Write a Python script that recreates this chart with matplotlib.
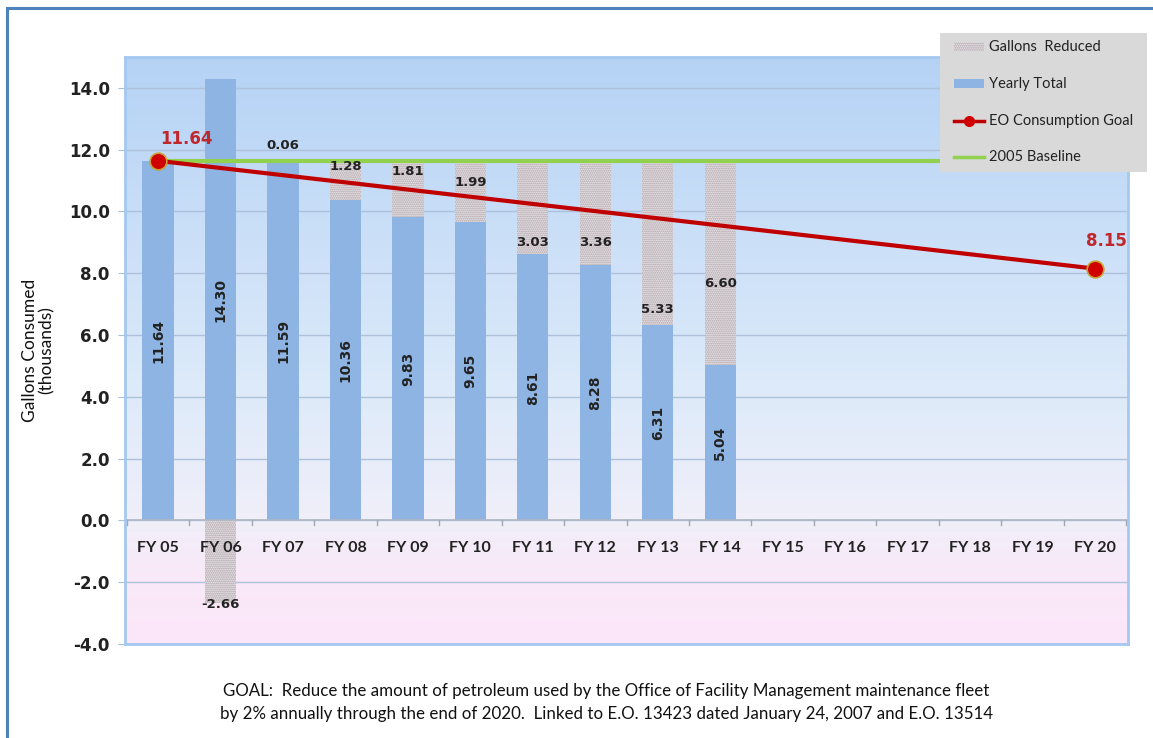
import matplotlib
matplotlib.use("Agg")
import matplotlib.pyplot as plt
import numpy as np
from matplotlib.patches import Rectangle
from matplotlib.colors import LinearSegmentedColormap

# ---------------- data ----------------
categories = ["FY 05", "FY 06", "FY 07", "FY 08", "FY 09", "FY 10", "FY 11", "FY 12",
              "FY 13", "FY 14", "FY 15", "FY 16", "FY 17", "FY 18", "FY 19", "FY 20"]
yearly_total = [11.64, 14.30, 11.59, 10.36, 9.83, 9.65, 8.61, 8.28, 6.31, 5.04]
gallons_reduced = [None, -2.66, 0.06, 1.28, 1.81, 1.99, 3.03, 3.36, 5.33, 6.60]
goal_years = ["FY 05", "FY 20"]
goal_values = [11.64, 8.15]
baseline_value = 11.64
y_ticks = [-4.0, -2.0, 0.0, 2.0, 4.0, 6.0, 8.0, 10.0, 12.0, 14.0]

# label layout (data-unit y positions for the "reduced" labels)
reduced_label_y = [None, -2.72, 12.12, 11.47, 11.28, 10.95, 8.98, 8.98, 6.84, 7.68]

W, H = 1153, 738
fig = plt.figure(figsize=(W / 100, H / 100), dpi=100)
fig.patch.set_facecolor("white")

# outer border
fig.add_artist(Rectangle((7 / W, -0.1), 1.2, 1 - 7.5 / H + 0.1, transform=fig.transFigure,
                         fill=False, edgecolor="#4f81bd", linewidth=2.2, zorder=0))

ax = fig.add_axes([125 / W, 1 - 644 / H, (1128 - 125) / W, (644 - 57) / H])
ax.set_xlim(-0.53, 15.53)
ax.set_ylim(-4, 15)

# gradient background
cmap = LinearSegmentedColormap.from_list("bg", [
    (0.0, "#fbe6f8"),
    (0.12, "#f9e9f8"),
    (0.21, "#f0eff9"),
    (0.45, "#dceafa"),
    (1.0, "#b5d2f5"),
])
grad = np.linspace(0, 1, 256).reshape(-1, 1)
ax.imshow(grad, aspect="auto", cmap=cmap, origin="lower",
          extent=[-0.53, 15.53, -4, 15], zorder=0)

# grid
for t in y_ticks:
    ax.axhline(t, color="#adc2da", linewidth=1.0, zorder=1)

x = np.arange(len(categories))
n = len(yearly_total)
bar_w = 0.5
blue = "#8db4e2"
hatch_face = "#ede6ea"
hatch_edge = "#a49ca2"

ax.bar(x[:n], yearly_total, width=bar_w, color=blue, zorder=2, linewidth=0)

plt.rcParams["hatch.linewidth"] = 0.9
for i, r in enumerate(gallons_reduced):
    if r is None:
        continue
    bottom = 0 if r < 0 else yearly_total[i]
    ax.bar(x[i], r, bottom=bottom, width=bar_w, facecolor=hatch_face,
           edgecolor=hatch_edge, hatch="........", linewidth=0, zorder=2)

# baseline
ax.plot([x[0], 15.53], [baseline_value, baseline_value], color="#92d050",
        linewidth=3, zorder=3, solid_capstyle="butt")

# goal line
gx = [categories.index(c) for c in goal_years]
ax.plot(gx, goal_values, color="#c00000", linewidth=3, marker="o", markersize=12,
        markerfacecolor="#d00000", markeredgecolor="#c8a030", markeredgewidth=1.2, zorder=4)

# value labels in bars (rotated)
for i, v in enumerate(yearly_total):
    ax.text(x[i], v / 2, f"{v:.2f}", rotation=90, ha="center", va="center",
            fontsize=10, fontweight="bold", color="#222222", family="DejaVu Sans", zorder=5)

for i, r in enumerate(gallons_reduced):
    if r is None:
        continue
    ax.text(x[i], reduced_label_y[i], f"{r:.2f}", ha="center", va="center",
            fontsize=9.5, fontweight="bold", color="#222222", family="DejaVu Sans", zorder=5)

# goal labels
ax.text(gx[0] + 0.45, goal_values[0] + 0.7, f"{goal_values[0]:.2f}", ha="center", va="center",
        fontsize=12, fontweight="bold", color="#c0272d", family="DejaVu Sans", zorder=5)
ax.text(gx[1] + 0.18, goal_values[1] + 0.9, f"{goal_values[1]:.2f}", ha="center", va="center",
        fontsize=12, fontweight="bold", color="#c0272d", family="DejaVu Sans", zorder=5)

# axes styling
for s in ["top", "right", "bottom", "left"]:
    ax.spines[s].set_color("#a4c8f0")
    ax.spines[s].set_linewidth(2)
ax.set_yticks(y_ticks)
ax.set_yticklabels([f"{t:.1f}" for t in y_ticks], fontsize=12, fontweight="bold",
                   family="DejaVu Sans", color="#222222")
ax.tick_params(axis="y", length=5, color="#a9bfd8", pad=6)
ax.set_xticks([])

# x axis at zero
ax.axhline(0, color="#b0b8c4", linewidth=1.2, zorder=2.5)
for b in np.arange(-0.5, 15.6, 1.0):
    ax.plot([b, b], [0, -0.15], color="#a0a8b4", linewidth=1, zorder=2.5, clip_on=False)
for i, c in enumerate(categories):
    ax.text(x[i], -0.9, c, ha="center", va="center", fontsize=11.5, fontweight="bold",
            family="Lato", color="#222222", zorder=5)

ax.set_ylabel("Gallons Consumed\n(thousands)", fontsize=12.5, family="Lato", color="#111111",
              labelpad=10, linespacing=1.05)

# legend box
leg_ax = fig.add_axes([940 / W, 1 - 172 / H, (1147 - 940) / W, (172 - 33) / H])
leg_ax.set_xlim(0, 207)
leg_ax.set_ylim(139, 0)
leg_ax.axis("off")
leg_ax.add_patch(Rectangle((0, 0), 207, 139, facecolor="#d9d9d9", edgecolor="none", zorder=0))
entry_y = [14, 51, 88, 124]
leg_ax.add_patch(Rectangle((14, 9), 30, 9, facecolor=hatch_face, edgecolor=hatch_edge,
                           hatch="........", linewidth=0, zorder=1))
leg_ax.add_patch(Rectangle((14, 46), 30, 9, facecolor=blue, edgecolor="none", zorder=1))
leg_ax.plot([14, 44], [88, 88], color="#c00000", linewidth=2.5, zorder=1)
leg_ax.plot([29], [88], marker="o", markersize=7, color="#d00000", zorder=2)
leg_ax.plot([14, 44], [124, 124], color="#92d050", linewidth=2.5, zorder=1)
leg_labels = ["Gallons  Reduced", "Yearly Total", "EO Consumption Goal", "2005 Baseline"]
for yy, lab in zip(entry_y, leg_labels):
    leg_ax.text(49, yy, lab, ha="left", va="center", fontsize=10.5, family="Lato",
                color="#222222")

# footnote
fig.text(606 / W, 1 - 691 / H,
         "GOAL:  Reduce the amount of petroleum used by the Office of Facility Management maintenance fleet",
         ha="center", va="center", fontsize=12.2, family="Lato", color="#111111")
fig.text(606 / W, 1 - 714 / H,
         "by 2% annually through the end of 2020.  Linked to E.O. 13423 dated January 24, 2007 and E.O. 13514",
         ha="center", va="center", fontsize=12.2, family="Lato", color="#111111")

fig.savefig("out.png", dpi=100)
